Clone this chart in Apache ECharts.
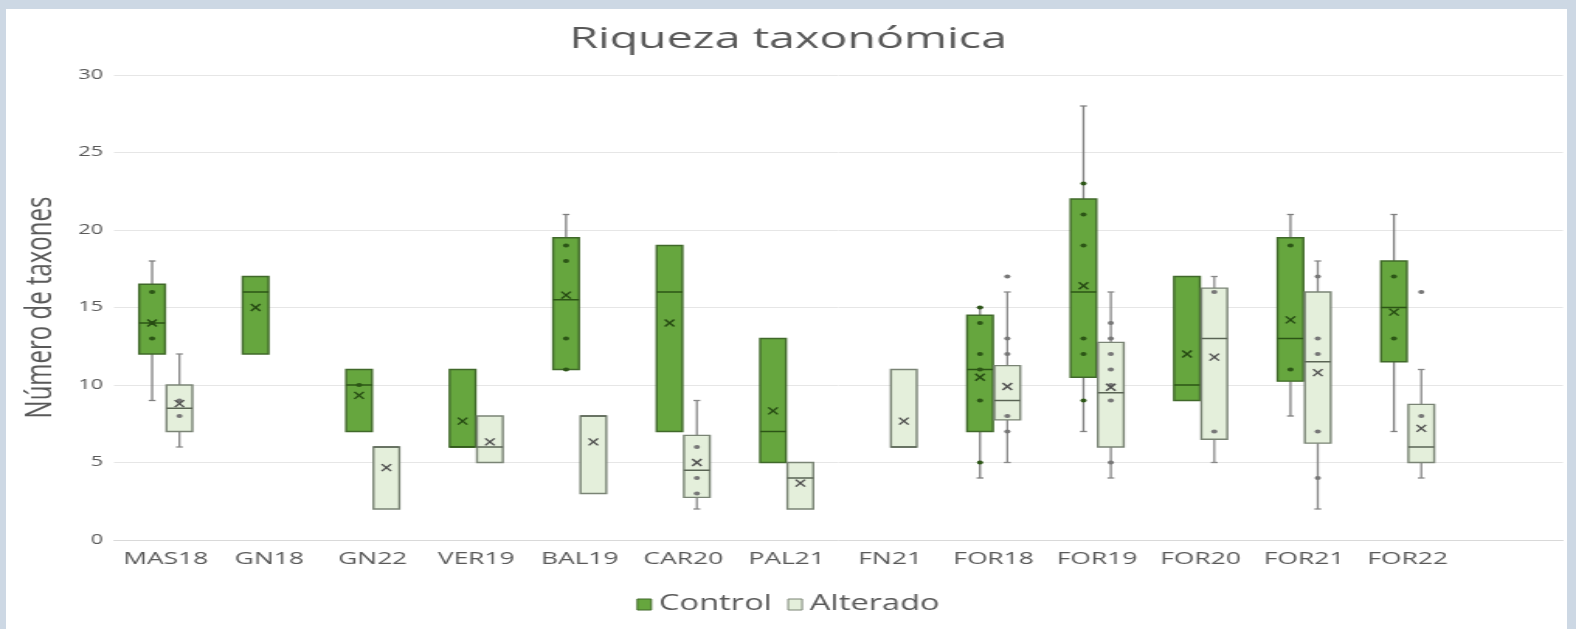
<!DOCTYPE html>
<html><head><meta charset="utf-8">
<script src="https://cdn.jsdelivr.net/npm/echarts@6/dist/echarts.min.js"></script>
<style>
html,body{margin:0;padding:0;width:1576px;height:629px;overflow:hidden;background:#cdd8e4;}
#panel{position:absolute;left:6px;top:9px;width:1561px;height:620px;background:#ffffff;}
#chart{position:absolute;left:0;top:0;width:1016px;height:629px;transform:scaleX(1.5512);transform-origin:0 0;}
</style></head><body><div id="panel"></div><div id="chart"></div>
<script>
// ---- data ----
const categories = ['MAS18','GN18','GN22','VER19','BAL19','CAR20','PAL21','FN21','FOR18','FOR19','FOR20','FOR21','FOR22',''];
const yTicks = [0, 5, 10, 15, 20, 25, 30];

// [min, Q1, median, Q3, max]
const controlStats = [
  [9, 12, 14, 16.5, 18],
  [12, 12, 16, 17, 17],
  [7, 7, 10, 11, 11],
  [6, 6, 6, 11, 11],
  [11, 11, 15.5, 19.5, 21],
  [7, 7, 16, 19, 19],
  [5, 5, 7, 13, 13],
  null,
  [4, 7, 11, 14.5, 15],
  [7, 10.5, 16, 22, 28],
  [9, 9, 10, 17, 17],
  [8, 10.25, 13, 19.5, 21],
  [7, 11.5, 15, 18, 21],
  null
];
const controlMeans = [14, 15, 9.33, 7.67, 15.8, 14, 8.33, null, 10.5, 16.4, 12, 14.2, 14.7, null];
const controlPoints = [
  [16, 14, 13], [], [10], [], [19, 18, 13, 11], [], [], [],
  [15, 14, 12, 11, 9, 5], [23, 21, 19, 13, 12, 9], [], [19, 11], [17, 13], []
];
const controlOutliers = [[], [], [], [], [], [], [], [], [], [], [], [], [], []];

const alteradoStats = [
  [6, 7, 8.5, 10, 12],
  null,
  [2, 2, 6, 6, 6],
  [5, 5, 6, 8, 8],
  [3, 3, 8, 8, 8],
  [2, 2.75, 4.5, 6.75, 9],
  [2, 2, 4, 5, 5],
  [6, 6, 6, 11, 11],
  [5, 7.75, 9, 11.25, 16],
  [4, 6, 9.5, 12.75, 16],
  [5, 6.5, 13, 16.25, 17],
  [2, 6.25, 11.5, 16, 18],
  [4, 5, 6, 8.75, 11],
  null
];
const alteradoMeans = [8.8, null, 4.67, 6.33, 6.33, 5, 3.67, 7.67, 9.9, 9.85, 11.8, 10.8, 7.2, null];
const alteradoPoints = [
  [9, 8], [], [], [], [], [6, 4, 3], [], [],
  [13, 12, 8, 7], [14, 13, 12, 11, 10, 9, 5], [16, 7], [17, 13, 12, 7, 4], [8], []
];
const alteradoOutliers = [[], [], [], [], [], [], [], [], [17], [], [], [], [16], []];

// ---- rendering ----
function makeRenderer(stats, means, points, outliers, offset, st) {
  return function (params, api) {
    const i = api.value(0);
    const s = stats[i];
    if (!s) return null;
    const band = api.size([1, 0])[0];
    const cx = api.coord([i, 0])[0] + offset * band;
    const half = band * 0.125;
    const cap = band * 0.033;
    const Y = v => api.coord([i, v])[1];
    const mn = api.value(1), q1 = api.value(2), md = api.value(3), q3 = api.value(4), mx = api.value(5);
    const ch = [];
    const wStyle = { stroke: st.whisker, lineWidth: 1.3 };
    if (mx > q3) {
      ch.push({ type: 'line', shape: { x1: cx, y1: Y(q3), x2: cx, y2: Y(mx) }, style: wStyle });
      ch.push({ type: 'line', shape: { x1: cx - cap, y1: Y(mx), x2: cx + cap, y2: Y(mx) }, style: wStyle });
    }
    if (mn < q1) {
      ch.push({ type: 'line', shape: { x1: cx, y1: Y(q1), x2: cx, y2: Y(mn) }, style: wStyle });
      ch.push({ type: 'line', shape: { x1: cx - cap, y1: Y(mn), x2: cx + cap, y2: Y(mn) }, style: wStyle });
    }
    ch.push({ type: 'rect', shape: { x: cx - half, y: Y(q3), width: 2 * half, height: Y(q1) - Y(q3) },
      style: { fill: st.fill, stroke: st.border, lineWidth: 1.4 } });
    ch.push({ type: 'line', shape: { x1: cx - half, y1: Y(md), x2: cx + half, y2: Y(md) },
      style: { stroke: st.median, lineWidth: 1.5 } });
    const pts = (points[i] || []).concat(outliers[i] || []);
    pts.forEach(v => {
      ch.push({ type: 'circle', shape: { cx: cx, cy: Y(v), r: 2 }, style: { fill: st.dot } });
    });
    const m = means[i];
    if (m != null) {
      const my = Y(m), dx = 3, dy = 3.5;
      ch.push({ type: 'line', shape: { x1: cx - dx, y1: my - dy, x2: cx + dx, y2: my + dy }, style: { stroke: st.mean, lineWidth: 1.4 } });
      ch.push({ type: 'line', shape: { x1: cx - dx, y1: my + dy, x2: cx + dx, y2: my - dy }, style: { stroke: st.mean, lineWidth: 1.4 } });
    }
    return { type: 'group', children: ch };
  };
}

function toData(stats) {
  const out = [];
  stats.forEach((s, i) => { if (s) out.push([i].concat(s)); });
  return out;
}

const controlStyle = { fill: '#66a63e', border: '#40692a', median: '#2c5516', dot: '#2c5516', mean: '#264a13', whisker: '#7f7f7f' };
const alteradoStyle = { fill: '#e4efdb', border: '#7a8475', median: '#5a6454', dot: '#777777', mean: '#4f4f4f', whisker: '#888888' };

const chart = echarts.init(document.getElementById('chart'));
const font = 'Open Sans';
chart.setOption({
  backgroundColor: 'transparent',
  animation: false,
  textStyle: { fontFamily: font },
  title: {
    text: 'Riqueza taxonómica', left: 'center', top: 19,
    textStyle: { fontFamily: font, fontSize: 30, fontWeight: 'normal', color: '#595959' }
  },
  legend: {
    top: 589, left: 'center', itemWidth: 9, itemHeight: 11, itemGap: 10,
    textStyle: { fontFamily: font, fontSize: 21, color: '#595959' },
    data: [
      { name: 'Control', icon: 'rect', itemStyle: { color: '#66a63e', borderColor: '#40692a', borderWidth: 1 } },
      { name: 'Alterado', icon: 'rect', itemStyle: { color: '#e4efdb', borderColor: '#7a8475', borderWidth: 1 } }
    ]
  },
  grid: { left: 73.5, right: 8.5, top: 75, bottom: 89, containLabel: false },
  xAxis: {
    type: 'category', data: categories, boundaryGap: true,
    axisLine: { lineStyle: { color: '#d9d9d9', width: 1 } },
    axisTick: { show: false },
    axisLabel: { interval: 0, margin: 11, fontFamily: font, fontSize: 17, color: '#595959' },
    splitLine: { show: false }
  },
  yAxis: {
    type: 'value', min: yTicks[0], max: yTicks[yTicks.length - 1], interval: 5,
    name: 'Número de taxones', nameLocation: 'middle', nameGap: 35,
    nameTextStyle: { fontFamily: font, fontSize: 24, color: '#595959' },
    axisLine: { show: false }, axisTick: { show: false },
    axisLabel: { margin: 7, fontFamily: font, fontSize: 14, color: '#595959' },
    splitLine: { lineStyle: { color: '#e6e6e6', width: 1 } }
  },
  series: [
    {
      name: 'Control', type: 'custom', itemStyle: { color: '#66a63e' },
      renderItem: makeRenderer(controlStats, controlMeans, controlPoints, controlOutliers, -0.132, controlStyle),
      encode: { x: 0, y: [1, 2, 3, 4, 5] },
      data: toData(controlStats)
    },
    {
      name: 'Alterado', type: 'custom', itemStyle: { color: '#e4efdb' },
      renderItem: makeRenderer(alteradoStats, alteradoMeans, alteradoPoints, alteradoOutliers, 0.132, alteradoStyle),
      encode: { x: 0, y: [1, 2, 3, 4, 5] },
      data: toData(alteradoStats)
    }
  ]
});
</script></body></html>
